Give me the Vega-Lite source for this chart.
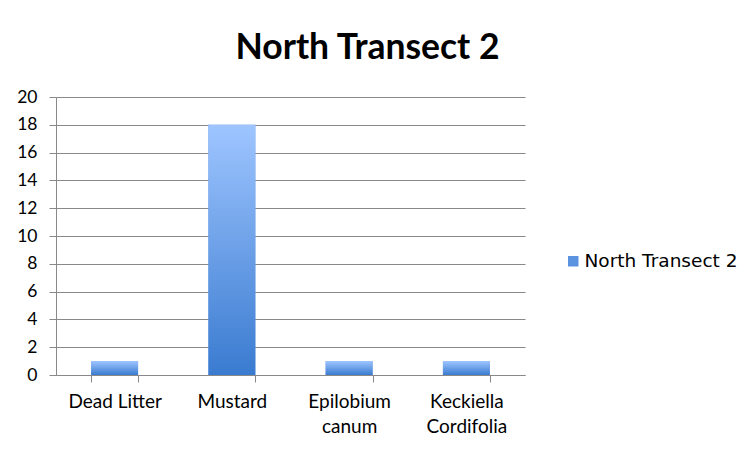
{
  "$schema": "https://vega.github.io/schema/vega-lite/v6.json",
  "autosize": {"type": "none"},
  "width": 469,
  "height": 278,
  "padding": {"left": 56, "top": 97, "right": 227, "bottom": 77},
  "background": "white",
  "title": {
    "text": "North Transect 2",
    "font": "Lato",
    "fontSize": 35.5,
    "fontWeight": "bold",
    "color": "black",
    "anchor": "middle",
    "dx": 77,
    "offset": 22
  },
  "data": {
    "values": [
      {"species": "Dead Litter", "count": 1, "series": "North Transect 2"},
      {"species": "Mustard", "count": 18, "series": "North Transect 2"},
      {"species": "Epilobium canum", "count": 1, "series": "North Transect 2"},
      {"species": "Keckiella Cordifolia", "count": 1, "series": "North Transect 2"}
    ]
  },
  "encoding": {
    "x": {
      "field": "species",
      "type": "nominal",
      "sort": null,
      "scale": {"paddingInner": 0.6, "paddingOuter": 0.3},
      "axis": {
        "title": null,
        "labelAngle": 0,
        "labelFont": "Lato",
        "labelFontSize": 19,
        "labelColor": "black",
        "labelPadding": 10,
        "tickBand": "extent",
        "tickSize": 7,
        "tickColor": "#898989",
        "domainColor": "#898989",
        "labelExpr": "datum.label == 'Epilobium canum' ? ['Epilobium', 'canum'] : datum.label == 'Keckiella Cordifolia' ? ['Keckiella', 'Cordifolia'] : datum.label",
        "labelLineHeight": 25
      }
    },
    "y": {
      "field": "count",
      "type": "quantitative",
      "scale": {"domain": [0, 20]},
      "axis": {
        "title": null,
        "values": [0, 2, 4, 6, 8, 10, 12, 14, 16, 18, 20],
        "labelFont": "Lato",
        "labelFontSize": 17.5,
        "labelColor": "black",
        "labelPadding": 12,
        "tickSize": 7,
        "tickColor": "#898989",
        "domainColor": "#898989",
        "gridColor": "#898989",
        "grid": true
      }
    }
  },
  "layer": [
    {
      "mark": {"type": "bar"},
      "encoding": {
        "color": {
          "field": "series",
          "type": "nominal",
          "scale": {"range": ["#5b93e0"]},
          "legend": {
            "title": null,
            "orient": "none",
            "legendX": 508,
            "legendY": 155,
            "symbolType": "square",
            "symbolSize": 110,
            "symbolStrokeWidth": 0,
            "symbolOpacity": 1,
            "labelFont": "DejaVu Sans",
            "labelFontSize": 18.5,
            "labelColor": "black",
            "labelOffset": 2,
            "labelLimit": 300
          }
        }
      }
    },
    {
      "mark": {
        "type": "bar",
        "color": {
          "gradient": "linear",
          "x1": 0, "y1": 0, "x2": 0, "y2": 1,
          "stops": [
            {"offset": 0, "color": "#9ec5ff"},
            {"offset": 1, "color": "#3a7bd0"}
          ]
        }
      }
    }
  ],
  "config": {
    "view": {"stroke": null},
    "axis": {"gridWidth": 1}
  }
}
